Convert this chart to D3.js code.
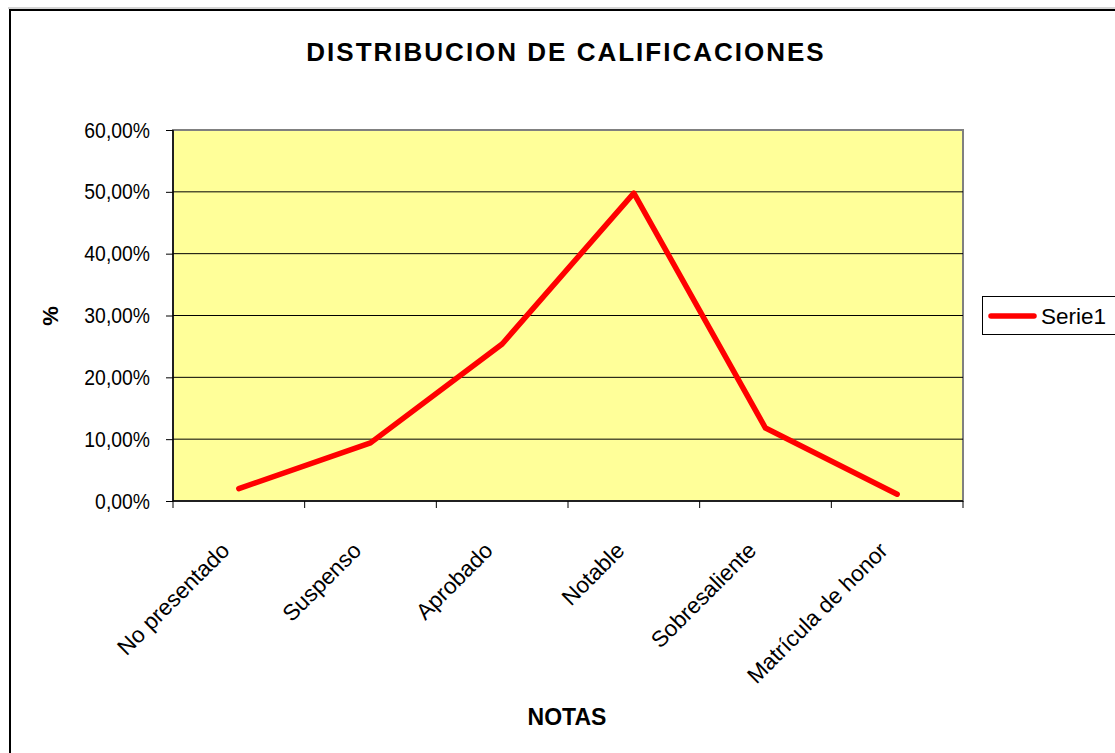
<!DOCTYPE html>
<html><head><meta charset="utf-8">
<script src="https://cdn.jsdelivr.net/npm/d3@7"></script>
<style>body{margin:0;background:#fff}svg{display:block}text{font-family:"Liberation Sans",Arial,sans-serif}</style>
</head><body>
<svg id="c" width="1115" height="753"></svg>
<script>
const categories = ["No presentado","Suspenso","Aprobado","Notable","Sobresaliente","Matrícula de honor"];
const values = [2.0, 9.4, 25.4, 49.8, 11.8, 1.1];
const yTicks = [0,10,20,30,40,50,60];
const seriesName = "Serie1";
const title = "DISTRIBUCION DE CALIFICACIONES";
const xTitle = "NOTAS";
const yTitle = "%";

const svg = d3.select("#c");
const m = {l:173, r:963, t:130, b:501};
svg.append("line").attr("x1",8).attr("x2",1115).attr("y1",8).attr("y2",8).attr("stroke","#aaa").attr("stroke-width",1);
svg.append("rect").attr("x",10).attr("y",10).attr("width",1200).attr("height",800)
  .attr("fill","#fff").attr("stroke","#000").attr("stroke-width",2);

const x = d3.scaleBand().domain(categories).range([m.l,m.r]).padding(0);
const y = d3.scaleLinear().domain([0,60]).range([m.b,m.t]);

svg.append("rect").attr("x",m.l).attr("y",m.t).attr("width",m.r-m.l).attr("height",m.b-m.t)
  .attr("fill","#ffff99").attr("stroke","#808080").attr("stroke-width",2);

svg.append("g").selectAll("line").data(yTicks.filter(d=>d>0&&d<60)).join("line")
  .attr("x1",m.l).attr("x2",m.r).attr("y1",d=>y(d)).attr("y2",d=>y(d))
  .attr("stroke","#000").attr("stroke-width",1);

const fmt = d=>d3.format(".2f")(d).replace(".",",")+"%";
const sx = 0.88;
const ya = svg.append("g").attr("transform",`translate(${m.l},0)`)
  .call(d3.axisLeft(y).tickValues(yTicks).tickFormat(fmt).tickSize(7).tickPadding(16));
ya.select(".domain").attr("stroke","#000").attr("stroke-width",1.5).attr("d",`M0,${m.t}V${m.b}`);
ya.selectAll("line").attr("stroke","#000");
ya.selectAll("text").attr("font-size",22).attr("fill","#000").attr("font-family","Liberation Sans, Arial, sans-serif")
  .attr("x",-23/sx).attr("transform",`scale(${sx},1)`);

const xa = svg.append("g").attr("transform",`translate(0,${m.b})`)
  .call(d3.axisBottom(x).tickSize(0).tickFormat(""));
xa.select(".domain").attr("stroke","#000").attr("stroke-width",1.5).attr("d",`M${m.l},0H${m.r}`);
const edges = categories.map(c=>x(c)).concat([m.r]);
xa.selectAll(".edge").data(edges).join("line").attr("class","edge")
  .attr("x1",d=>d).attr("x2",d=>d).attr("y1",0).attr("y2",7).attr("stroke","#000");
svg.append("g").selectAll("text").data(categories).join("text")
  .attr("transform",d=>`translate(${x(d)+x.bandwidth()/2-8},${m.b+51}) rotate(-45)`)
  .attr("text-anchor","end").attr("font-size",22.5).text(d=>d);

const line = d3.line().x((d,i)=>x(categories[i])+x.bandwidth()/2).y(d=>y(d));
svg.append("path").datum(values).attr("d",line).attr("fill","none")
  .attr("stroke","#ff0000").attr("stroke-width",5.5).attr("stroke-linejoin","round").attr("stroke-linecap","round");

svg.append("text").attr("x",566).attr("y",61).attr("text-anchor","middle")
  .attr("font-size",26).attr("font-weight","bold").attr("letter-spacing",2).text(title);
svg.append("text").attr("x",567).attr("y",725).attr("text-anchor","middle")
  .attr("font-size",23).attr("font-weight","bold").text(xTitle);
svg.append("text").attr("transform","translate(58,316) rotate(-90)").attr("text-anchor","middle")
  .attr("font-size",22).attr("font-weight","bold").text(yTitle);

const lg = svg.append("g");
lg.append("rect").attr("x",982.5).attr("y",296.5).attr("width",134).attr("height",38)
  .attr("fill","#fff").attr("stroke","#000").attr("stroke-width",1);
lg.append("line").attr("x1",991).attr("x2",1034).attr("y1",316).attr("y2",316)
  .attr("stroke","#ff0000").attr("stroke-width",5.5).attr("stroke-linecap","round");
lg.append("text").attr("x",1041).attr("y",324).attr("font-size",22.5).text(seriesName);
</script>
</body></html>
